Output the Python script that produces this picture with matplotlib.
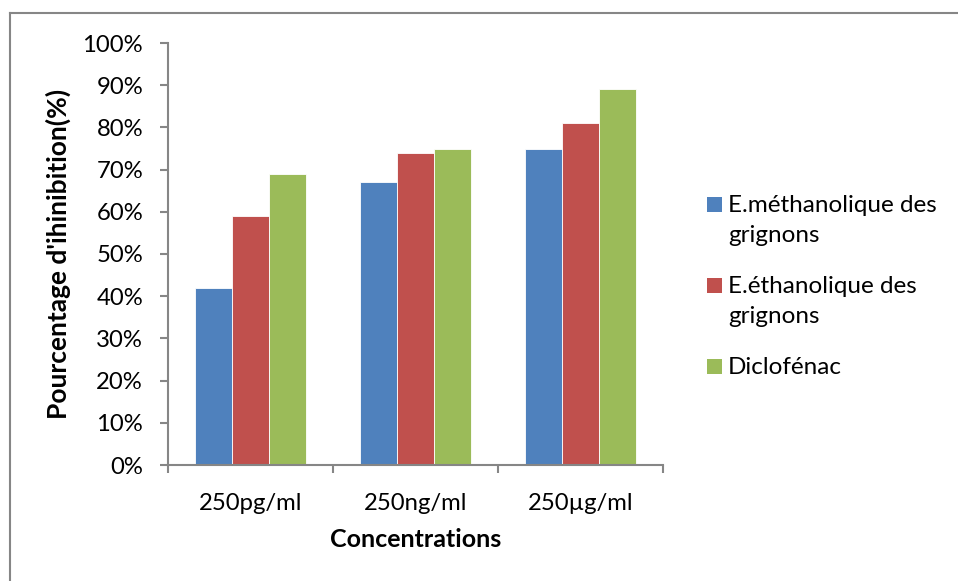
import matplotlib
matplotlib.use("Agg")
import matplotlib.pyplot as plt
from matplotlib.lines import Line2D
from matplotlib.patches import Rectangle
from matplotlib.ticker import PercentFormatter
import numpy as np

# Données : pourcentage d'inhibition par concentration
concentrations = ["250pg/ml", "250ng/ml", "250\u00b5g/ml"]
series_labels = ["E.méthanolique des\ngrignons", "E.éthanolique des\ngrignons", "Diclofénac"]
methanolique = [42, 67, 75]
ethanolique = [59, 74, 81]
diclofenac = [69, 75, 89]
valeurs = [methanolique, ethanolique, diclofenac]
couleurs = ["#4F81BD", "#C0504D", "#9BBB59"]

plt.rcParams["font.family"] = ["Lato", "DejaVu Sans"]
gris = "#868686"

W, H = 958, 581
fig = plt.figure(figsize=(W / 100, H / 100), dpi=100)
ax = fig.add_axes([168 / W, 1 - 465 / H, 495 / W, 422 / H])

x = np.arange(len(concentrations))
largeur = 0.224
for i, (vals, couleur) in enumerate(zip(valeurs, couleurs)):
    ax.bar(x + (i - 1) * largeur, vals, width=largeur, color=couleur,
           edgecolor="white", linewidth=0.6, zorder=2)

ax.set_xlim(-0.5, len(concentrations) - 0.5)
ax.set_ylim(0, 100)
ax.set_yticks(np.arange(0, 101, 10))
ax.yaxis.set_major_formatter(PercentFormatter(decimals=0))

# Graduations entre les groupes, étiquettes centrées sous chaque groupe
ax.set_xticks(np.arange(-0.5, len(concentrations), 1.0))
ax.set_xticklabels([])
ax.set_xticks(x, minor=True)
ax.set_xticklabels(concentrations, minor=True)
ax.tick_params(axis="x", which="minor", length=0, pad=20, labelsize=17.2)
ax.tick_params(axis="x", which="major", length=6, color=gris, width=1.5)
ax.tick_params(axis="y", length=6, color=gris, width=1.5, pad=12, labelsize=17.2)

for side in ["top", "right"]:
    ax.spines[side].set_visible(False)
for side in ["left", "bottom"]:
    ax.spines[side].set_color(gris)
    ax.spines[side].set_linewidth(1.5)

ax.set_xlabel("Concentrations", fontsize=18, fontweight="bold", labelpad=10)
ax.set_ylabel("Pourcentage d'ihinibition(%)", fontsize=19, fontweight="bold", labelpad=8)

# Légende à la main : carré aligné sur la première ligne de chaque libellé
base = 212      # ligne de base de la première entrée (px depuis le haut)
interligne = 30
for label, couleur in zip(series_labels, couleurs):
    fig.add_artist(Rectangle((707 / W, 1 - base / H), 15 / W, 15 / H,
                             facecolor=couleur, edgecolor="none",
                             transform=fig.transFigure))
    for k, ligne in enumerate(label.split("\n")):
        fig.text(728 / W, 1 - (base + k * interligne) / H, ligne,
                 fontsize=17.5, va="baseline", ha="left")
    base += interligne * label.count("\n") + 51

# Cadre du graphique (haut et gauche)
fig.add_artist(Line2D([10 / W, 1], [1 - 13 / H, 1 - 13 / H], color=gris, lw=1.5))
fig.add_artist(Line2D([10 / W, 10 / W], [0, 1 - 13 / H], color=gris, lw=1.5))

fig.savefig("out.png", dpi=100)
